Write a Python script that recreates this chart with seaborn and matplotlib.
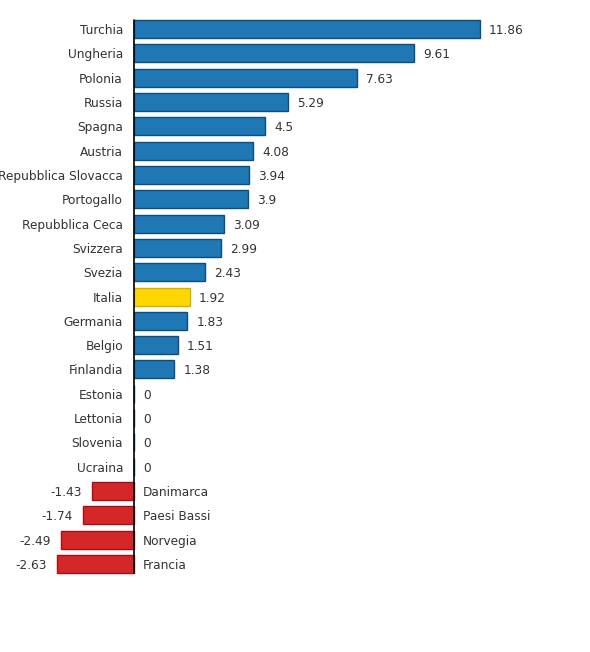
import pandas as pd
import matplotlib
matplotlib.use('Agg')
import matplotlib.pyplot as plt
import seaborn as sns

paesi = ['Turchia', 'Ungheria', 'Polonia', 'Russia', 'Spagna', 'Austria',
         'Repubblica Slovacca', 'Portogallo', 'Repubblica Ceca', 'Svizzera',
         'Svezia', 'Italia', 'Germania', 'Belgio', 'Finlandia', 'Estonia',
         'Lettonia', 'Slovenia', 'Ucraina', 'Danimarca', 'Paesi Bassi',
         'Norvegia', 'Francia']
valori = [11.86, 9.61, 7.63, 5.29, 4.5, 4.08, 3.94, 3.9, 3.09, 2.99, 2.43,
          1.92, 1.83, 1.51, 1.38, 0, 0, 0, 0, -1.43, -1.74, -2.49, -2.63]
etichette = ['11.86', '9.61', '7.63', '5.29', '4.5', '4.08', '3.94', '3.9',
             '3.09', '2.99', '2.43', '1.92', '1.83', '1.51', '1.38', '0', '0',
             '0', '0', '-1.43', '-1.74', '-2.49', '-2.63']


def gruppo(p, v):
    if p == 'Italia':
        return 'italia'
    return 'pos' if v >= 0 else 'neg'


df = pd.DataFrame({'paese': paesi, 'valore': valori, 'etichetta': etichette})
df['gruppo'] = [gruppo(p, v) for p, v in zip(paesi, valori)]

colori = {'pos': '#1f77b4', 'italia': '#ffd700', 'neg': '#d62728'}
bordi = {'pos': '#0b4f80', 'italia': '#d4b000', 'neg': '#a50f15'}

sns.set_style('white')
plt.rcParams['font.family'] = ['DejaVu Sans']

fig = plt.figure(figsize=(5.9, 6.52), dpi=100)
ax = fig.add_axes([0, 0, 1, 1])
sns.barplot(data=df, y='paese', x='valore', hue='gruppo', palette=colori,
            orient='h', dodge=False, width=0.74, saturation=1, legend=False, ax=ax)

# bordi piu scuri per ogni barra
for patch in ax.patches:
    fc = matplotlib.colors.to_hex(patch.get_facecolor())
    for g, c in colori.items():
        if fc == c:
            patch.set_edgecolor(bordi[g])
            patch.set_linewidth(1.0)

# zero a x=134 px, 29.17 px per unita
scala = 29.17
ax.set_xlim(-134 / scala, (590 - 134) / scala)
ax.set_ylim((652 - 29) / 24.32, -29 / 24.32)
ax.set_axis_off()
ax.plot([0, 0], [-0.38, len(paesi) - 1 + 0.38], color='black', lw=1.2)

testo = '#333333'
for i, row in df.iterrows():
    v = row['valore']
    if v >= 0:
        ax.annotate(row['paese'], (0, i), xytext=(-11, 0), textcoords='offset pixels',
                    ha='right', va='center_baseline', fontsize=8.7, color=testo)
        ax.annotate(row['etichetta'], (v, i), xytext=(9, 0), textcoords='offset pixels',
                    ha='left', va='center_baseline', fontsize=8.7, color=testo)
    else:
        ax.annotate(row['paese'], (0, i), xytext=(9, 0), textcoords='offset pixels',
                    ha='left', va='center_baseline', fontsize=8.7, color=testo)
        ax.annotate(row['etichetta'], (v, i), xytext=(-10, 0), textcoords='offset pixels',
                    ha='right', va='center_baseline', fontsize=8.7, color=testo)

fig.savefig('out.png', dpi=100)
